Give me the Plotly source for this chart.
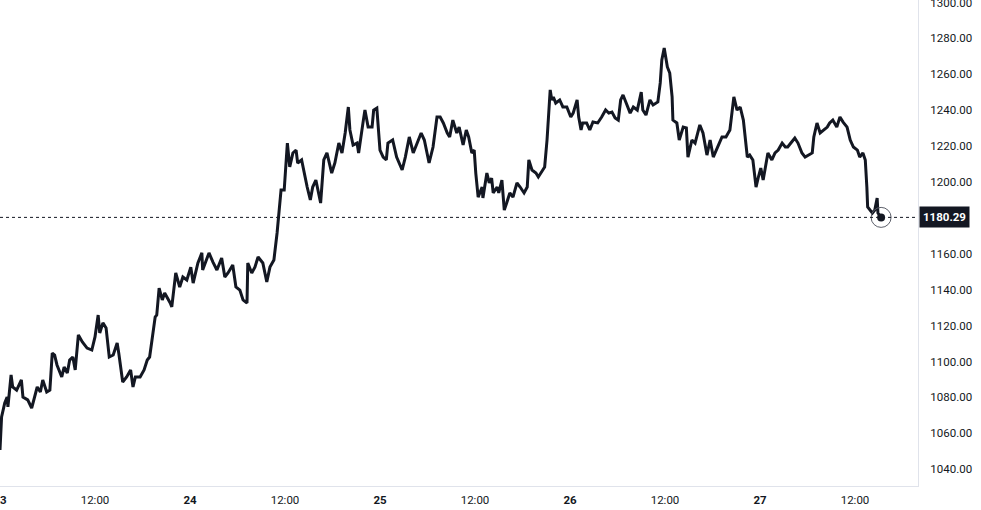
import pandas as pd
import plotly.graph_objects as go

# --- data (hours since 23rd 00:00, price) ---
base_date = "2024-01-23 00:00"
hours = [0.0, 0.2, 0.6, 0.9, 1.0, 1.4, 1.6, 2.1, 2.7, 2.9, 3.5, 4.0, 4.7, 5.1, 5.4, 5.9, 6.3, 6.6, 6.9, 7.2,
         7.8, 8.1, 8.5, 8.8, 9.2, 9.5, 9.9, 10.4, 11.0, 11.6, 12.0, 12.4, 12.6, 13.0, 13.4, 13.8, 14.3, 14.8, 15.0, 15.5,
         16.0, 16.5, 16.8, 17.1, 17.7, 18.2, 18.6, 18.9, 19.2, 19.6, 19.8, 20.1, 20.5, 20.8, 21.5, 21.7, 22.2, 22.7, 23.1, 23.6,
         24.1, 24.4, 25.0, 25.5, 25.6, 26.1, 26.4, 26.9, 27.4, 28.0, 28.4, 28.8, 29.4, 29.8, 30.3, 30.7, 31.2, 31.3, 31.8, 32.2,
         32.6, 33.2, 33.7, 34.1, 34.6, 35.0, 35.2, 35.5, 35.9, 36.1, 36.3, 36.6, 37.0, 37.4, 37.6, 38.1, 38.5, 38.8, 39.2, 39.5,
         39.9, 40.2, 40.5, 40.9, 41.3, 41.9, 42.3, 42.8, 43.2, 43.6, 44.0, 44.2, 44.6, 45.1, 45.3, 45.9, 46.1, 46.5, 47.0, 47.2,
         47.6, 48.0, 48.4, 48.8, 49.0, 49.6, 50.1, 50.8, 51.2, 51.7, 52.2, 52.7, 53.2, 53.6, 53.9, 54.2, 54.7, 55.2, 55.6, 56.0,
         56.5, 56.8, 57.2, 57.7, 58.0, 58.5, 58.9, 59.2, 59.6, 59.9, 60.1, 60.4, 60.9, 61.0, 61.5, 61.8, 62.1, 62.3, 62.8, 63.0,
         63.4, 63.7, 64.0, 64.4, 64.8, 65.3, 65.7, 66.2, 66.6, 66.8, 67.2, 67.7, 68.0, 68.5, 68.8, 69.1, 69.5, 69.7, 69.9, 70.2,
         70.7, 71.1, 71.6, 72.1, 72.4, 72.9, 73.1, 73.4, 73.6, 74.1, 74.5, 74.9, 75.5, 76.0, 76.5, 76.9, 77.3, 77.7, 78.1, 78.4,
         78.7, 79.1, 79.6, 80.0, 80.5, 81.0, 81.2, 81.6, 82.1, 82.5, 83.1, 83.4, 83.6, 83.9, 84.3, 84.6, 84.9, 85.0, 85.5, 85.8,
         86.3, 86.7, 86.9, 87.4, 87.8, 88.4, 88.8, 89.3, 89.7, 90.1, 90.7, 91.2, 91.7, 92.2, 92.7, 93.1, 93.5, 93.9, 94.4, 94.7,
         95.1, 95.5, 95.8, 96.1, 96.4, 96.6, 97.0, 97.5, 97.9, 98.3, 98.8, 99.2, 99.5, 100.0, 100.4, 100.8, 101.3, 101.7, 102.1, 102.6,
         102.8, 103.2, 103.6, 104.0, 104.5, 104.8, 105.2, 105.7, 106.1, 106.5, 107.0, 107.4, 107.8, 108.3, 108.6, 109.0, 109.3, 109.5, 109.6, 110.2,
         110.5, 110.8, 110.9, 111.3]
prices = [1050.7, 1069.1, 1076.9, 1080.2, 1074.7, 1092.5, 1085.8, 1084.1, 1089.7, 1080.2, 1078.6, 1074.1, 1085.8, 1083.0, 1089.7, 1083.0, 1084.1, 1104.7, 1103.6, 1098.1,
          1091.4, 1096.9, 1093.6, 1100.8, 1102.5, 1095.3, 1114.8, 1110.9, 1107.5, 1106.4, 1113.7, 1125.9, 1115.9, 1121.5, 1118.7, 1102.5, 1103.6, 1110.3, 1104.7, 1088.6,
          1091.4, 1095.3, 1085.8, 1091.4, 1091.4, 1095.3, 1100.8, 1102.5, 1112.0, 1124.8, 1125.9, 1140.9, 1134.3, 1138.2, 1132.6, 1130.4, 1149.3, 1141.5, 1147.1, 1145.4,
          1152.6, 1143.7, 1154.9, 1160.5, 1151.0, 1156.6, 1160.5, 1155.4, 1151.0, 1157.7, 1147.1, 1149.3, 1153.8, 1141.5, 1139.8, 1134.3, 1132.6, 1154.9, 1149.3, 1152.6,
          1158.2, 1154.9, 1144.3, 1152.6, 1156.6, 1171.6, 1180.5, 1195.5, 1195.5, 1212.3, 1221.7, 1208.4, 1216.2, 1217.8, 1210.6, 1212.3, 1202.8, 1197.2, 1190.0, 1197.2,
          1201.1, 1195.5, 1188.3, 1212.3, 1216.2, 1205.0, 1210.6, 1221.7, 1216.2, 1227.3, 1241.8, 1229.0, 1220.6, 1221.7, 1216.2, 1234.5, 1240.1, 1230.6, 1230.6, 1240.1,
          1241.2, 1217.8, 1213.9, 1212.3, 1221.7, 1223.4, 1213.9, 1206.7, 1213.9, 1225.1, 1216.2, 1221.7, 1227.3, 1223.4, 1217.8, 1210.6, 1219.5, 1236.2, 1236.2, 1232.9,
          1227.3, 1225.1, 1234.5, 1227.3, 1230.6, 1220.6, 1229.0, 1225.1, 1216.2, 1217.8, 1205.0, 1191.6, 1197.2, 1191.1, 1205.0, 1199.5, 1202.2, 1193.9, 1197.2, 1193.9,
          1201.1, 1184.4, 1188.3, 1193.9, 1191.6, 1199.5, 1197.2, 1193.9, 1197.2, 1212.3, 1206.7, 1205.0, 1202.8, 1206.7, 1208.4, 1223.4, 1251.3, 1245.7, 1247.4, 1244.0,
          1245.7, 1241.8, 1241.8, 1236.2, 1238.4, 1245.7, 1236.2, 1229.0, 1232.9, 1232.9, 1229.0, 1233.4, 1232.9, 1236.2, 1240.1, 1238.4, 1239.0, 1235.7, 1234.5, 1245.7,
          1248.5, 1244.0, 1238.4, 1241.8, 1240.1, 1250.1, 1240.1, 1237.3, 1245.7, 1242.9, 1244.6, 1255.2, 1268.0, 1274.7, 1264.1, 1260.7, 1247.4, 1234.5, 1232.9, 1223.4,
          1230.6, 1230.1, 1213.9, 1223.4, 1221.7, 1231.8, 1227.3, 1215.0, 1223.4, 1213.9, 1219.5, 1225.1, 1225.1, 1229.0, 1247.4, 1240.1, 1241.8, 1234.5, 1213.9, 1215.0,
          1212.3, 1197.2, 1202.8, 1207.8, 1201.1, 1206.7, 1216.2, 1212.3, 1216.2, 1217.8, 1221.7, 1219.5, 1219.5, 1222.3, 1224.5, 1221.7, 1216.2, 1213.9, 1215.0, 1216.2,
          1225.1, 1232.9, 1227.3, 1229.0, 1230.6, 1232.9, 1234.5, 1230.6, 1236.2, 1233.4, 1230.6, 1223.4, 1219.5, 1217.8, 1213.9, 1216.2, 1212.3, 1197.2, 1186.1, 1182.7,
          1184.4, 1191.1, 1182.7, 1180.29]

last_price = 1180.29
y_ticks = [1040, 1060, 1080, 1100, 1120, 1140, 1160, 1200, 1220, 1240, 1260, 1280, 1300]
x_tick_hours = [0, 12, 24, 36, 48, 60, 72, 84, 96, 108]
x_tick_text = ["<b>23</b>", "12:00", "<b>24</b>", "12:00", "<b>25</b>", "12:00", "<b>26</b>", "12:00", "<b>27</b>", "12:00"]

t0 = pd.Timestamp(base_date)
times = [t0 + pd.Timedelta(hours=h) for h in hours]
x_ticks = [t0 + pd.Timedelta(hours=h) for h in x_tick_hours]

LINE = "#131722"
AXIS = "#e0e3eb"
TXT = "#131722"
FONT = "Roboto, Noto Sans, sans-serif"

fig = go.Figure()
fig.add_trace(go.Scatter(x=times, y=prices, mode="lines",
                         line=dict(color=LINE, width=3), hoverinfo="skip", showlegend=False))
fig.add_trace(go.Scatter(x=[times[-1]], y=[prices[-1]], mode="markers",
                         marker=dict(size=20, color="rgba(255,255,255,0)", line=dict(color="#5d606b", width=1)),
                         hoverinfo="skip", showlegend=False, cliponaxis=False))
fig.add_trace(go.Scatter(x=[times[-1]], y=[prices[-1]], mode="markers",
                         marker=dict(size=8, color=LINE), hoverinfo="skip", showlegend=False))

fig.add_shape(type="line", xref="paper", x0=0, x1=1, yref="y", y0=last_price, y1=last_price,
              line=dict(color=LINE, width=1, dash="dot"))
fig.add_annotation(xref="paper", x=1, xanchor="left", yref="y", y=last_price, yanchor="middle",
                   text="<b>%.2f</b>" % last_price, showarrow=False,
                   font=dict(color="white", size=11.5, family=FONT), bgcolor=LINE, borderpad=3, xshift=1)

x_end = t0 + pd.Timedelta(hours=115.96)
fig.update_layout(
    width=981, height=510, margin=dict(l=0, r=63, t=0, b=24, autoexpand=False),
    paper_bgcolor="white", plot_bgcolor="white",
    font=dict(family=FONT, size=11.5, color=TXT),
    xaxis=dict(range=[t0, x_end], tickvals=x_ticks, ticktext=x_tick_text, showgrid=False, zeroline=False,
               showline=True, linecolor=AXIS, linewidth=1, ticks="", ticklabeloverflow="allow",
               automargin=False, ticklabelstandoff=3, tickfont=dict(size=11.5, color=TXT)),
    yaxis=dict(range=[1030.65, 1301.4], side="right", tickvals=y_ticks,
               ticktext=["%.2f" % v for v in y_ticks], showgrid=False, zeroline=False,
               showline=True, linecolor=AXIS, linewidth=1, ticks="", ticklabelstandoff=9,
               ticklabeloverflow="allow", automargin=False, tickfont=dict(size=11.5, color=TXT)),
)

fig.write_html("out.html", config={"displayModeBar": False},
               post_script="document.body.style.margin='0';document.body.style.overflow='hidden';")
